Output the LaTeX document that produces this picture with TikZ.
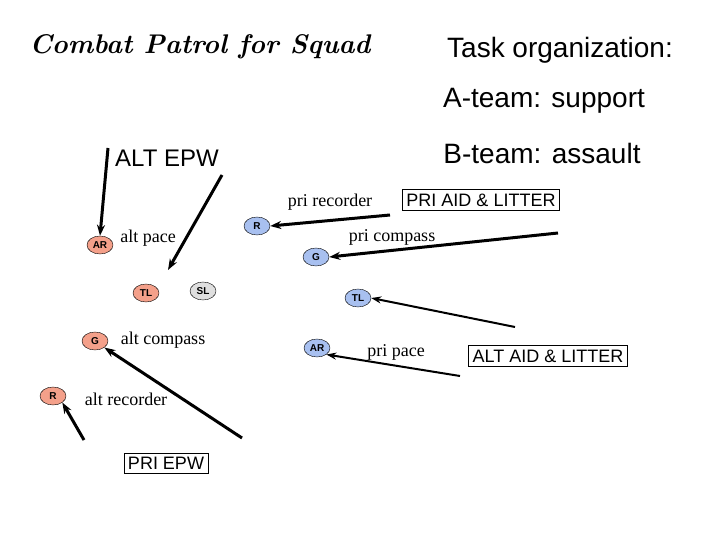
\documentclass[tikz,border=0pt]{standalone}
\usepackage{fontspec}
\newfontfamily\sans{Liberation Sans}
\newfontfamily\serif{Liberation Serif}
\usetikzlibrary{arrows.meta,shapes.geometric}
\definecolor{salmon}{HTML}{F4A08A}
\definecolor{lblue}{HTML}{A8C0F0}
\begin{document}
\begin{tikzpicture}[x=1pt,y=-1pt,
  rnode/.style={ellipse,draw,fill=salmon,inner sep=0pt,minimum width=26pt,minimum height=18pt,font=\sans\bfseries\fontsize{10}{10}\selectfont},
  bnode/.style={rnode,fill=lblue},
  gnode/.style={rnode,fill=gray!25},
  lbl/.style={font=\serif\fontsize{18}{18}\selectfont},
  big/.style={font=\sans\fontsize{28}{28}\selectfont},
  box/.style={draw,font=\sans\fontsize{18}{18}\selectfont,inner sep=4pt},
  arr/.style={-{Stealth[length=11pt,width=8pt]},line width=3pt},
  tarr/.style={-{Stealth[length=10pt,width=7pt]},line width=2pt}]
\useasboundingbox (0,0) rectangle (720,540);
\node (title) at (200,47) {\fontsize{27}{27}\selectfont\bfseries\itshape Combat Patrol for Squad};
\node[big] (task) at (560,50) {Task organization:};
\node[big] (ateam) at (544,101) {A-team: support};
\node[big] (bteam) at (542,153) {B-team: assault};
\node[font=\sans\fontsize{24}{24}\selectfont] (altepw) at (167,158) {ALT EPW};
\node[box] (priepw) at (166,463) {PRI EPW};
\node[box] (priaid) at (481,200) {PRI AID \& LITTER};
\node[box] (altaid) at (548,356) {ALT AID \& LITTER};
\node[rnode] (ar1) at (100,245) {AR};
\node[rnode] (tl1) at (146,293) {TL};
\node[gnode] (sl) at (203,291) {SL};
\node[rnode] (g1) at (95,341) {G};
\node[rnode] (r1) at (53,396) {R};
\node[bnode] (r2) at (257,226) {R};
\node[bnode] (g2) at (316,257) {G};
\node[bnode] (tl2) at (358,298) {TL};
\node[bnode] (ar2) at (317,348) {AR};
\node[lbl] (altpace) at (148,238) {alt pace};
\node[lbl] (altcomp) at (163,340) {alt compass};
\node[lbl] (altrec) at (126,399) {alt recorder};
\node[lbl] (prirec) at (330,202) {pri recorder};
\node[lbl] (pricomp) at (392,237) {pri compass};
\node[lbl] (pripace) at (396,352) {pri pace};
\coordinate (s1) at (108,148);
\coordinate (s2) at (222,175);
\coordinate (e2) at (168,270);
\coordinate (s3) at (390,215);
\coordinate (s4) at (558,233);
\coordinate (s5) at (515,327);
\coordinate (s6) at (460,376);
\coordinate (s7) at (242,438);
\coordinate (s8) at (84,440);
\draw[arr] (s1) -- (ar1.north);
\draw[arr] (s2) -- (e2);
\draw[arr] (s3) -- (r2.east);
\draw[arr] (s4) -- (g2.east);
\draw[tarr] (s5) -- (tl2.east);
\draw[tarr] (s6) -- (ar2.south east);
\draw[arr] (s7) -- (g1.south east);
\draw[arr] (s8) -- (r1.south east);
\end{tikzpicture}
\end{document}
